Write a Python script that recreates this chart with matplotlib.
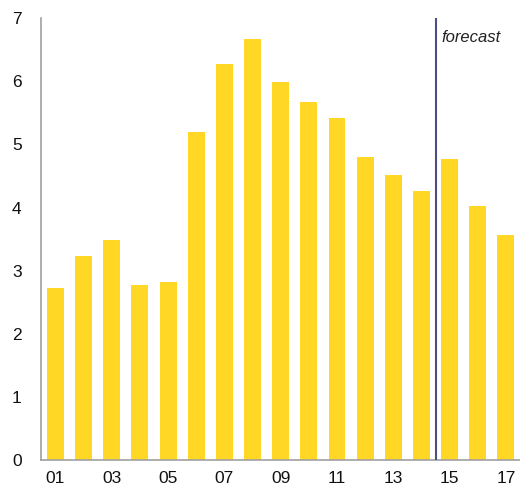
import matplotlib
matplotlib.use("Agg")
import matplotlib.pyplot as plt

BAR_COLOR = "#FFD724"
LINE_COLOR = "#4B4F86"
AXIS_COLOR = "#A0A0A0"

years = ["01", "02", "03", "04", "05", "06", "07", "08", "09",
         "10", "11", "12", "13", "14", "15", "16", "17"]
values = [2.72, 3.23, 3.48, 2.77, 2.82, 5.19, 6.27, 6.67, 5.99,
          5.67, 5.42, 4.80, 4.51, 4.26, 4.77, 4.02, 3.56]
forecast_start = 14.5

plt.rcParams["font.family"] = ["Liberation Sans", "DejaVu Sans"]

fig = plt.figure(figsize=(5.2, 4.9), dpi=100, facecolor="white")
ax = fig.add_axes([0.079, 0.061, 0.921, 0.902])

x = list(range(1, len(values) + 1))
ax.bar(x, values, width=0.6, color=BAR_COLOR, zorder=2)
ax.axvline(forecast_start, color=LINE_COLOR, linewidth=1.5, zorder=3)
ax.text(forecast_start + 0.2, 6.7, "forecast", style="italic", fontsize=12,
        color="#222222", ha="left", va="center")

ax.set_xlim(0.49, 17.5)
ax.set_ylim(0, 7)
ax.set_xticks(x[::2])
ax.set_xticklabels(years[::2])
ax.set_yticks(range(0, 8))
ax.tick_params(axis="both", length=0, labelsize=12.5, colors="#111111")
ax.tick_params(axis="y", pad=14)
ax.tick_params(axis="x", pad=8)

for side in ["top", "right"]:
    ax.spines[side].set_visible(False)
for side in ["left", "bottom"]:
    ax.spines[side].set_color(AXIS_COLOR)
    ax.spines[side].set_linewidth(1.2)

plt.savefig("out.png", dpi=100, facecolor="white")
plt.close(fig)
